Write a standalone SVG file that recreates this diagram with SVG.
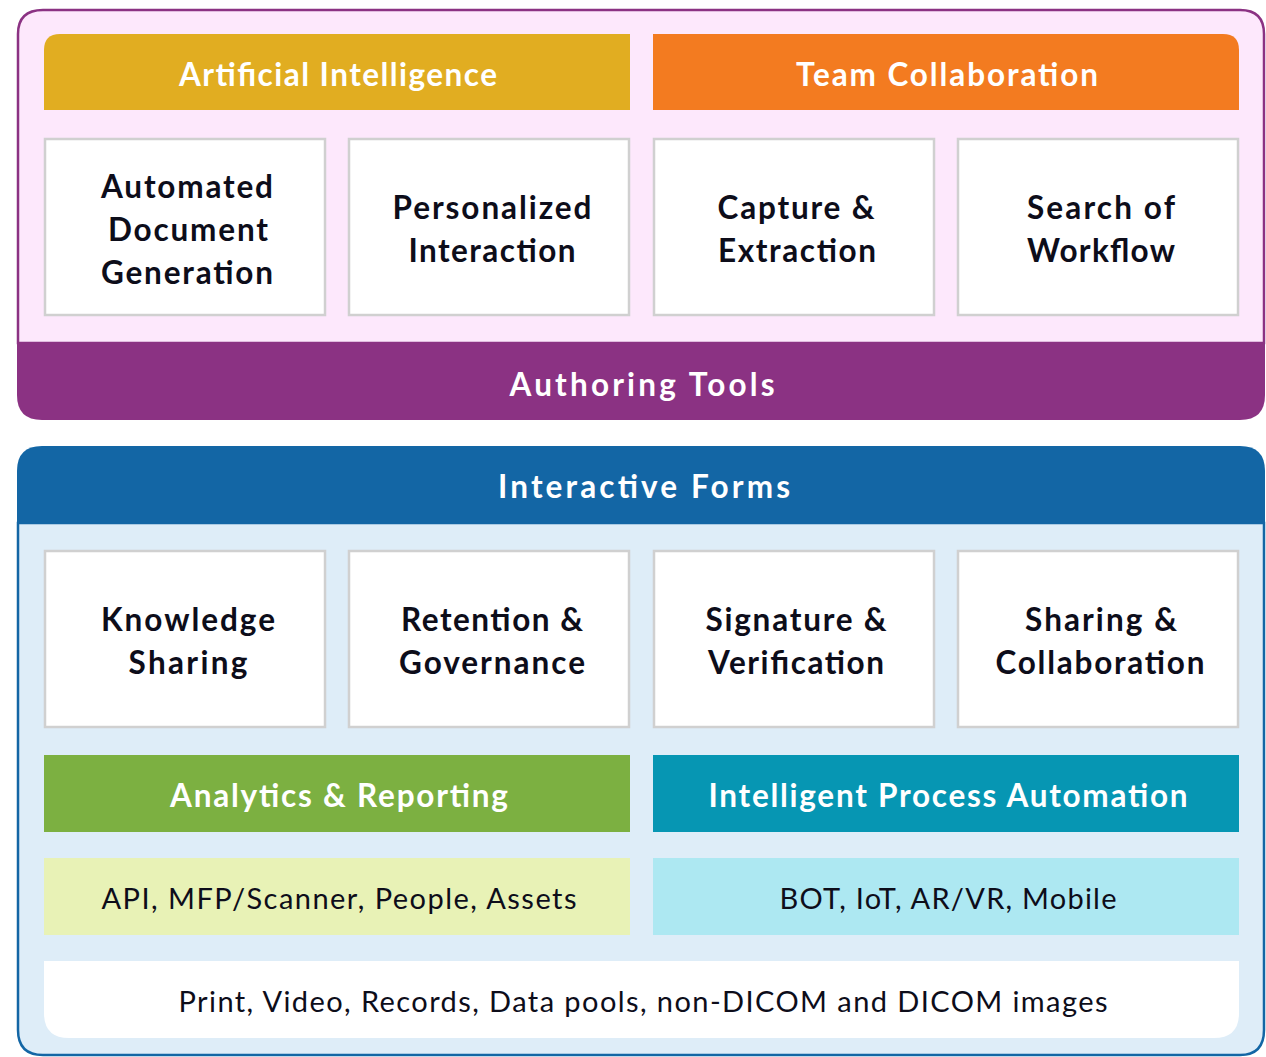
<svg xmlns="http://www.w3.org/2000/svg" width="1266" height="1057" viewBox="0 0 1266 1057">
<style>
text{font-family:Lato,"Open Sans","Liberation Sans",sans-serif;text-anchor:middle}
.h{font-weight:700;font-size:31.5px;fill:#fff}
.b{font-weight:700;font-size:31.5px;fill:#0d0d1a}
.r{font-weight:400;font-size:29px;fill:#0d0d1a}
.box{fill:#fff;stroke:#d0d0d0;stroke-width:2.5}
</style>
<rect width="1266" height="1057" fill="#fff"/>
<g id="authoring-panel">
<path d="M18,343 V34 Q18,10 43,10 H1240 Q1264,10 1264,34 V343 Z" fill="#fde8fc" stroke="#8b3283" stroke-width="2.5"/>
<path d="M17,343 H1265 V395 Q1265,420 1240,420 H42 Q17,420 17,395 Z" fill="#8b3283"/>
<text class="h" x="642" y="396" textLength="265" lengthAdjust="spacing">Authoring Tools</text>
</g>
<g id="ai">
<path d="M44,110 V50 Q44,34 60,34 H630 V110 Z" fill="#e1ad21"/>
<text class="h" x="338" y="86" textLength="318" lengthAdjust="spacing">Artificial Intelligence</text>
</g>
<g id="team">
<path d="M653,34 H1223 Q1239,34 1239,50 V110 H653 Z" fill="#f37b20"/>
<text class="h" x="947" y="86" textLength="302" lengthAdjust="spacing">Team Collaboration</text>
</g>
<g id="adg"><rect class="box" x="45" y="139" width="280" height="176"/>
<text class="b" x="187" y="198" textLength="172" lengthAdjust="spacing">Automated</text>
<text class="b" x="188" y="241" textLength="160" lengthAdjust="spacing">Document</text>
<text class="b" x="187" y="284" textLength="172" lengthAdjust="spacing">Generation</text></g>
<g id="pi"><rect class="box" x="349" y="139" width="280" height="176"/>
<text class="b" x="492" y="219" textLength="199" lengthAdjust="spacing">Personalized</text>
<text class="b" x="492" y="262" textLength="167" lengthAdjust="spacing">Interaction</text></g>
<g id="ce"><rect class="box" x="654" y="139" width="280" height="176"/>
<text class="b" x="796" y="219" textLength="157" lengthAdjust="spacing">Capture &amp;</text>
<text class="b" x="797" y="262" textLength="158" lengthAdjust="spacing">Extraction</text></g>
<g id="sw"><rect class="box" x="958" y="139" width="280" height="176"/>
<text class="b" x="1101" y="219" textLength="148" lengthAdjust="spacing">Search of</text>
<text class="b" x="1101" y="262" textLength="148" lengthAdjust="spacing">Workflow</text></g>

<g id="forms-panel">
<path d="M18,523 V1030 Q18,1055 43,1055 H1240 Q1264,1055 1264,1030 V523 Z" fill="#deedf8" stroke="#1366a5" stroke-width="2.5"/>
<path d="M17,523 V471 Q17,446 42,446 H1240 Q1265,446 1265,471 V523 Z" fill="#1366a5"/>
<text class="h" x="644" y="498" textLength="292" lengthAdjust="spacing">Interactive Forms</text>
</g>
<g id="ks"><rect class="box" x="45" y="551" width="280" height="176"/>
<text class="b" x="188" y="631" textLength="174" lengthAdjust="spacing">Knowledge</text>
<text class="b" x="188" y="674" textLength="119" lengthAdjust="spacing">Sharing</text></g>
<g id="rg"><rect class="box" x="349" y="551" width="280" height="176"/>
<text class="b" x="492" y="631" textLength="182" lengthAdjust="spacing">Retention &amp;</text>
<text class="b" x="492" y="674" textLength="186" lengthAdjust="spacing">Governance</text></g>
<g id="sv"><rect class="box" x="654" y="551" width="280" height="176"/>
<text class="b" x="796" y="631" textLength="181" lengthAdjust="spacing">Signature &amp;</text>
<text class="b" x="796" y="674" textLength="176" lengthAdjust="spacing">Verification</text></g>
<g id="sc"><rect class="box" x="958" y="551" width="280" height="176"/>
<text class="b" x="1101" y="631" textLength="152" lengthAdjust="spacing">Sharing &amp;</text>
<text class="b" x="1100" y="674" textLength="209" lengthAdjust="spacing">Collaboration</text></g>
<g id="analytics"><rect x="44" y="755" width="586" height="77" fill="#7cb041"/>
<text class="h" x="339" y="807" textLength="338" lengthAdjust="spacing">Analytics &amp; Reporting</text></g>
<g id="ipa"><rect x="653" y="755" width="586" height="77" fill="#0696b3"/>
<text class="h" x="948" y="807" textLength="479" lengthAdjust="spacing">Intelligent Process Automation</text></g>
<g id="api"><rect x="44" y="858" width="586" height="77" fill="#e8f2b6"/>
<text class="r" x="339" y="909" textLength="475" lengthAdjust="spacing">API, MFP/Scanner, People, Assets</text></g>
<g id="bot"><rect x="653" y="858" width="586" height="77" fill="#ade8f2"/>
<text class="r" x="948" y="909" textLength="337" lengthAdjust="spacing">BOT, IoT, AR/VR, Mobile</text></g>
<g id="print"><path d="M44,961 H1239 V1013 Q1239,1038 1214,1038 H69 Q44,1038 44,1013 Z" fill="#fff"/>
<text class="r" x="643" y="1012" textLength="929" lengthAdjust="spacing">Print, Video, Records, Data pools, non-DICOM and DICOM images</text></g>
<g id="connectors"/>
</svg>
